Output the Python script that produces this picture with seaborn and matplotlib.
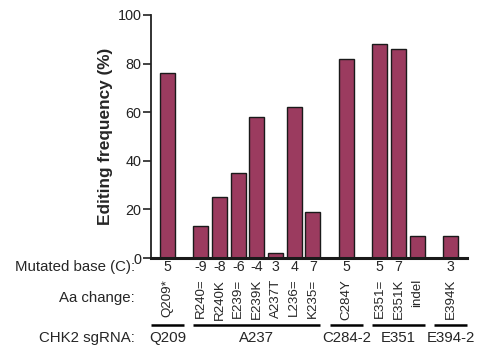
import numpy as np
import pandas as pd
import matplotlib
matplotlib.use("Agg")
import matplotlib.pyplot as plt
import seaborn as sns

# data
groups = ["Q209", "A237", "C284-2", "E351", "E394-2"]
group_sizes = [1, 7, 1, 3, 1]
aa_change = ["Q209*", "R240=", "R240K", "E239=", "E239K", "A237T", "L236=", "K235=",
             "C284Y", "E351=", "E351K", "indel", "E394K"]
mutated_base = ["5", "-9", "-8", "-6", "-4", "3", "4", "7", "5", "5", "7", "", "3"]
editing_freq = [76, 13, 25, 35, 58, 2, 62, 19, 82, 88, 86, 9, 9]

# bar positions: one unit per bar, wider gap between sgRNA groups
gap = 1.8
pos = []
x = 0.0
for k, n in enumerate(group_sizes):
    if k > 0:
        x += gap - 1
    for i in range(n):
        pos.append(x)
        x += 1
pos = np.array(pos)

df = pd.DataFrame({"pos": pos, "freq": editing_freq, "aa": aa_change})

sns.set_style("ticks")
plt.rcParams["font.family"] = ["Liberation Sans", "DejaVu Sans"]

fig = plt.figure(figsize=(4.85, 3.48), dpi=100)
ax = fig.add_axes([0.3113, 0.2586, 0.6517, 0.6983])

sns.barplot(data=df, x="pos", y="freq", native_scale=True, color="#9B3B5F",
            saturation=1, edgecolor="#1a1a1a", linewidth=1.0, width=0.8, ax=ax)

ax.set_xlim(pos[0] - 0.88, pos[-1] + 0.88)
ax.set_ylim(0, 100)
ax.set_yticks([0, 20, 40, 60, 80, 100])
ax.set_xticks([])
ax.set_xlabel("")
ax.set_ylabel("Editing frequency (%)", fontsize=12.4, fontweight="bold", labelpad=3)
ax.tick_params(axis="y", labelsize=10.4, length=6, width=1.2, colors="#222222", pad=1)
sns.despine(ax=ax)
ax.spines["left"].set_linewidth(1.3)
ax.spines["bottom"].set_linewidth(2.2)
ax.spines["bottom"].set_color("#1a1a1a")
ax.spines["left"].set_color("#222222")

tr = ax.get_xaxis_transform()
fs = 10.8

# row labels on the left
fig.text(135 / 485, 1 - 267 / 348, "Mutated base (C):", ha="right", va="center", fontsize=fs)
fig.text(135 / 485, 1 - 298 / 348, "Aa change:", ha="right", va="center", fontsize=fs)
fig.text(135 / 485, 1 - 338 / 348, "CHK2 sgRNA:", ha="right", va="center", fontsize=fs)

for p, mb, aa in zip(pos, mutated_base, aa_change):
    ax.text(p, -0.037, mb, transform=tr, ha="center", va="center", fontsize=fs - 0.6,
            clip_on=False)
    ax.text(p, -0.085, aa, transform=tr, ha="center", va="top", rotation=90,
            fontsize=9.6, clip_on=False)

# group brackets
start = 0
for g, n in zip(groups, group_sizes):
    p0, p1 = pos[start], pos[start + n - 1]
    c = (p0 + p1) / 2
    half = max((p1 - p0) / 2 + 0.4, 0.9)
    ax.plot([c - half, c + half], [-0.276, -0.276], transform=tr, color="black",
            lw=1.8, clip_on=False, solid_capstyle="butt")
    ax.text(c, -0.329, g, transform=tr, ha="center", va="center", fontsize=fs, clip_on=False)
    start += n

fig.savefig("out.png", dpi=100)
